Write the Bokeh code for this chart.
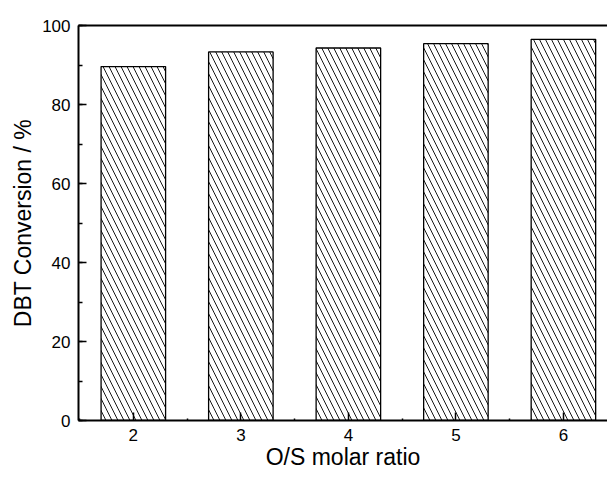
from bokeh.plotting import figure
from bokeh.models import (ColumnDataSource, FixedTicker, LinearAxis, Range1d,
                          SingleIntervalTicker)
from bokeh.embed import file_html
from bokeh.resources import INLINE

ratios = [2, 3, 4, 5, 6]
conversion = [89.6, 93.3, 94.3, 95.4, 96.5]

src = ColumnDataSource(dict(x=ratios, top=conversion))

p = figure(frame_width=529, frame_height=395, output_backend="svg",
           toolbar_location=None,
           x_range=Range1d(1.49, 6.41), y_range=Range1d(0, 100),
           min_border_left=78, min_border_top=25, min_border_bottom=57,
           min_border_right=0)
p.background_fill_color = "white"
p.border_fill_color = "white"
p.outline_line_color = None
p.xgrid.visible = False
p.ygrid.visible = False
p.xaxis.visible = False
p.yaxis.visible = False

p.vbar(x="x", top="top", width=0.6, bottom=0, source=src,
       fill_color="white", line_color="black", line_width=1.3,
       hatch_pattern="\\", hatch_color="black", hatch_scale=12,
       hatch_weight=1, hatch_alpha=0.9)

font = "Liberation Sans"

xa = LinearAxis(ticker=FixedTicker(ticks=ratios,
                                   minor_ticks=[1.5, 2.5, 3.5, 4.5, 5.5, 6.5]))
xa.axis_label = "O/S molar ratio"
ya = LinearAxis(ticker=SingleIntervalTicker(interval=20, num_minor_ticks=2))
ya.axis_label = "DBT Conversion / %"
for ax in (xa, ya):
    ax.axis_line_width = 2
    ax.axis_line_color = "black"
    ax.major_tick_in = 8
    ax.major_tick_out = 0
    ax.major_tick_line_width = 1.5
    ax.minor_tick_in = 4
    ax.minor_tick_out = 0
    ax.minor_tick_line_width = 1.5
    ax.major_label_text_font = font
    ax.major_label_text_font_size = "17px"
    ax.major_label_text_color = "black"
    ax.axis_label_text_font = font
    ax.axis_label_text_font_size = "23px"
    ax.axis_label_text_font_style = "normal"
    ax.axis_label_text_color = "black"
xa.minor_tick_in = 2
xa.major_label_standoff = 8
xa.axis_label_standoff = 0
ya.major_label_standoff = 8
ya.axis_label_standoff = 3
p.add_layout(xa, "below")
p.add_layout(ya, "left")

top = LinearAxis(ticker=FixedTicker(ticks=[]))
top.axis_line_width = 2
top.axis_line_color = "black"
top.major_tick_in = 0
top.major_tick_out = 0
top.minor_tick_in = 0
top.minor_tick_out = 0
top.major_label_text_font_size = "0px"
p.add_layout(top, "above")

open("out.html", "w").write(file_html(p, INLINE))
